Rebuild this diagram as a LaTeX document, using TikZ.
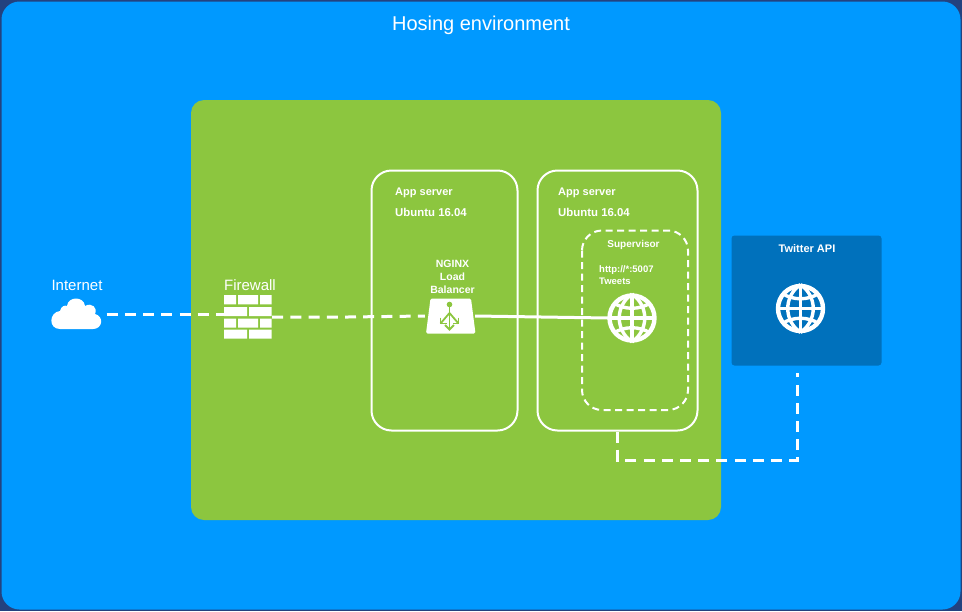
\documentclass[tikz,border=0pt]{standalone}
\usepackage{fontspec}
\setmainfont{Liberation Sans}
\usetikzlibrary{calc}
\definecolor{navy}{HTML}{23427F}
\definecolor{skyb}{HTML}{0099FF}
\definecolor{leaf}{HTML}{8CC63F}
\definecolor{deepb}{HTML}{0071BC}
\tikzset{
  x=1pt,y=-1pt,
  lbl/.style={text=white,font=\fontsize{11}{13}\selectfont\bfseries,inner sep=0pt,align=center},
  ublbl/.style={lbl,font=\fontsize{11.4}{13}\selectfont\bfseries},
  biglbl/.style={text=white,font=\fontsize{15}{18}\selectfont,inner sep=0pt},
  server/.style={draw=white,line width=2pt,rounded corners=20pt,fill=none},
  link/.style={draw=white,line width=3pt},
  dlink/.style={draw=white,line width=3pt,dash pattern=on 11pt off 7.2pt},
  globeline/.style={draw=white,line width=3.4pt},
}
\newcommand{\globeicon}[2]{%
 \begin{scope}[shift={(#1,#2)}]
  \draw[white,line width=4.4pt] (0,0) circle (22.5);
  \draw[globeline] (-24,0) -- (24,0) (0,-24) -- (0,24);
  \draw[globeline] (0,-24) .. controls (-17,-12) and (-17,12) .. (0,24);
  \draw[globeline] (0,-24) .. controls (17,-12) and (17,12) .. (0,24);
  \draw[globeline] (-18,-15) .. controls (-8,-8) and (8,-8) .. (18,-15);
  \draw[globeline] (-18,15) .. controls (-8,8) and (8,8) .. (18,15);
 \end{scope}}
\begin{document}
\begin{tikzpicture}
\useasboundingbox (0,0) rectangle (962,611);
\fill[navy] (0,0) rectangle (962,611);
\fill[skyb,rounded corners=18pt] (1.5,1.5) rectangle (960.5,609.5);
\node[text=white,font=\fontsize{20}{24}\selectfont,inner sep=0pt] (title) at (481,25) {Hosing environment};
\fill[leaf,rounded corners=13pt] (191,100) rectangle (721,520);
\fill[deepb,rounded corners=3pt] (731.5,235.5) rectangle (881.5,365.5);
\node[inner sep=0pt,minimum width=150pt,minimum height=130pt] (twitter) at (806.5,300.5) {};
\node[server,minimum width=146pt,minimum height=260pt] (app1) at (444.5,300.5) {};
\node[server,minimum width=160pt,minimum height=260pt] (app2) at (617.5,300.5) {};
\draw[white,line width=2pt,dash pattern=on 7pt off 4.5pt,rounded corners=20pt] (582,230.5) rectangle (688,410);
% labels
\node[lbl,anchor=west] (a1) at (395,192.5) {App server};
\node[ublbl,anchor=west] (a1b) at (395,212.5) {Ubuntu 16.04};
\node[lbl,anchor=west] (a2) at (558,192.5) {App server};
\node[ublbl,anchor=west] (a2b) at (558,212.5) {Ubuntu 16.04};
\node[lbl,font=\fontsize{10}{13}\selectfont\bfseries] (sup) at (633.5,245) {Supervisor};
\node[lbl,font=\fontsize{9.5}{12}\selectfont\bfseries,align=left,anchor=north west] (http) at (599,265.5) {http://*:5007\\Tweets};
\node[lbl,font=\fontsize{10.5}{13}\selectfont\bfseries] (ng) at (452.5,277) {NGINX\\Load\\Balancer};
\node[lbl] (tw) at (807,249) {Twitter API};
\node[biglbl] (inet) at (77,285) {Internet};
\node[biglbl] (fw) at (250,285) {Firewall};
% cloud
\node[inner sep=0pt,minimum width=50pt,minimum height=30pt] (cloud) at (76.5,314) {};
\fill[white] (60,329) .. controls (48,329) and (49,312) .. (60,311)
  .. controls (61,306) and (65,305) .. (67,306)
  .. controls (68,296) and (84,296) .. (85,306)
  .. controls (92,302) and (98,308) .. (95,314)
  .. controls (104,316) and (103,329) .. (93,329) -- cycle;
% firewall
\node[inner sep=0pt,minimum width=48pt,minimum height=44pt] (firewall) at (248,317) {};
\fill[white] (224,295) rectangle (236,304.3) (238,295) rectangle (258,304.3) (260,295) rectangle (271.5,304.3);
\fill[white] (224,307) rectangle (247,316) (249,307) rectangle (271.5,316);
\fill[white] (224,318.5) rectangle (236,327.5) (238,318.5) rectangle (258,327.5) (260,318.5) rectangle (271.5,327.5);
\fill[white] (224,329.7) rectangle (247,338.5) (249,329.7) rectangle (271.5,338.5);
% load balancer
\node[inner sep=0pt,minimum width=49pt,minimum height=35pt] (lb) at (450.5,316) {};
\fill[white,rounded corners=1.5pt] (430.5,298.5) -- (471,298.5) -- (475.5,333.5) -- (426,333.5) -- cycle;
\begin{scope}[leaf,line width=1.8pt]
 \fill (449.5,304.5) circle (2.8);
 \draw (449.5,305) -- (449.5,329);
 \draw (449.5,313) -- (440.5,323.5) (449.5,313) -- (458.5,323.5);
 \draw (445,325) -- (449.5,329.5) -- (454,325);
 \draw (440.5,317.5) -- (440.5,323.5) -- (446.5,323.5);
 \draw (458.5,317.5) -- (458.5,323.5) -- (452.5,323.5);
\end{scope}
% globes
\node[inner sep=0pt,minimum size=48pt] (g1) at (632,318) {};
\node[inner sep=0pt,minimum size=48pt] (g2) at (800.5,308.5) {};
\globeicon{632}{318}
\globeicon{800.5}{308.5}
% connectors
\draw[dlink] ($(cloud.east)+(5,0)$) -- (firewall.west |- 0,314);
\draw[dlink] ($(firewall.east)+(0,0)$) -- (348,317) -- ($(lb.west)+(-1,0)$);
\draw[link] ($(lb.east)$) -- (g1.west);
\draw[dlink,shorten >=7.5pt] (app2.south) -- (617.5,460) -- (797.5,460) -- (twitter.south -| 797.5,0);
\end{tikzpicture}
\end{document}
